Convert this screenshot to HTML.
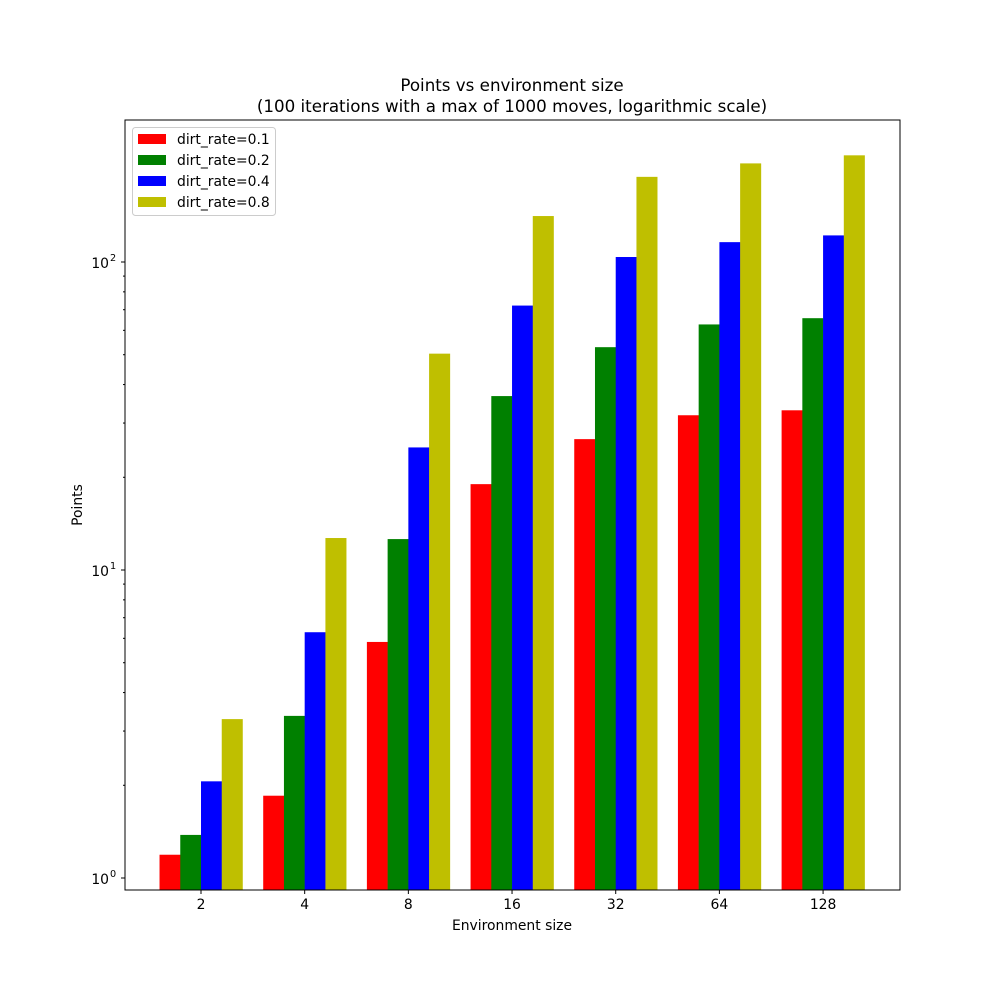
<!DOCTYPE html>
<html><head><meta charset="utf-8"><style>
body{margin:0;background:#fff;}
svg{font-family:"DejaVu Sans","Liberation Sans",sans-serif;}
</style></head><body>
<svg id="chart" width="1000" height="1000" viewBox="0 0 1000 1000" xmlns="http://www.w3.org/2000/svg">
<rect width="1000" height="1000" fill="#fff"/>
<text x="512" y="91" font-size="16.7" text-anchor="middle">Points vs environment size</text>
<text x="512" y="112" font-size="16.7" text-anchor="middle">(100 iterations with a max of 1000 moves, logarithmic scale)</text>
<g id="bars"></g>
<g id="axes"></g>
<rect x="125" y="120" width="775" height="770" fill="none" stroke="#000" stroke-width="1"/>
<text x="512" y="930" font-size="13.9" text-anchor="middle">Environment size</text>
<text x="82" y="505" font-size="13.9" text-anchor="middle" transform="rotate(-90 82 505)">Points</text>
<g id="legend"></g>
</svg>
<script>
const categories = ["2","4","8","16","32","64","128"];
const seriesNames = ["dirt_rate=0.1","dirt_rate=0.2","dirt_rate=0.4","dirt_rate=0.8"];
const seriesColors = ["#ff0000","#008000","#0000ff","#bfbf00"];
const rate01 = [1.19,1.85,5.84,19.0,26.6,31.8,33.0];
const rate02 = [1.38,3.36,12.6,36.7,52.9,62.7,65.7];
const rate04 = [2.06,6.28,25.0,72.2,103.8,116,122];
const rate08 = [3.28,12.7,50.4,141,189,209,222];
const series = [rate01,rate02,rate04,rate08];
const yMajorTicks = [1,10,100];

const NS="http://www.w3.org/2000/svg";
const plotTop=120, plotBottom=890, plotLeft=125, plotRight=900;
const decadePx=308, y1=878;
function yScale(v){return y1 - Math.log10(v)*decadePx;}
const groupStep=(plotRight-plotLeft)/7.475;
function xCenter(i){return plotLeft + 76 + i*groupStep;}
const barW=groupStep*0.2;
function mk(tag,attrs,parent){const e=document.createElementNS(NS,tag);for(const k in attrs)e.setAttribute(k,attrs[k]);parent.appendChild(e);return e;}

const bars=document.getElementById('bars');
series.forEach((vals,j)=>{
  vals.forEach((v,i)=>{
    const x=xCenter(i)+(j-2)*barW;
    const y=yScale(v);
    const r=mk('rect',{x:x,y:y,width:barW+0.3,height:plotBottom-y,fill:seriesColors[j]},bars);
    
    
  });
});

const axes=document.getElementById('axes');
categories.forEach((c,i)=>{
  const x=xCenter(i);
  const t=mk('line',{x1:x,x2:x,y1:plotBottom,y2:plotBottom+4,stroke:'#000'},axes);
  
  
  const l=mk('text',{x:x,y:plotBottom+19,'font-size':13.9,'text-anchor':'middle'},axes);
  l.textContent=c;
  
  
});
yMajorTicks.forEach((v,k)=>{
  const y=yScale(v);
  const t=mk('line',{x1:plotLeft-4,x2:plotLeft,y1:y,y2:y,stroke:'#000'},axes);
  
  
  const l=mk('text',{x:plotLeft-16,y:y+6,'font-size':13.9,'text-anchor':'end'},axes);
  l.textContent='10';
  
  
  const s=mk('text',{x:plotLeft-15,y:y-1,'font-size':9.7},axes);
  s.textContent=String(k);
  
  
});
for(let d=0; d<3; d++){
  for(let m=2;m<=9;m++){
    const v=m*Math.pow(10,d-1);
    const y=yScale(v);
    if(y<plotTop||y>plotBottom)continue;
    const t=mk('line',{x1:plotLeft-2,x2:plotLeft,y1:y,y2:y,stroke:'#000'},axes);
    
    
  }
}

const lg=document.getElementById('legend');
mk('rect',{x:132.5,y:127.5,width:143,height:88,rx:3,fill:'#fff',stroke:'#ccc'},lg);
seriesNames.forEach((n,j)=>{
  const y=139+j*21;
  const sw=mk('rect',{x:138,y:y-5,width:28,height:10,fill:seriesColors[j]},lg);
  
  
  const t=mk('text',{x:177,y:y+5,'font-size':13.9},lg);
  t.textContent=n;
  
  
});
</script>
</body></html>
